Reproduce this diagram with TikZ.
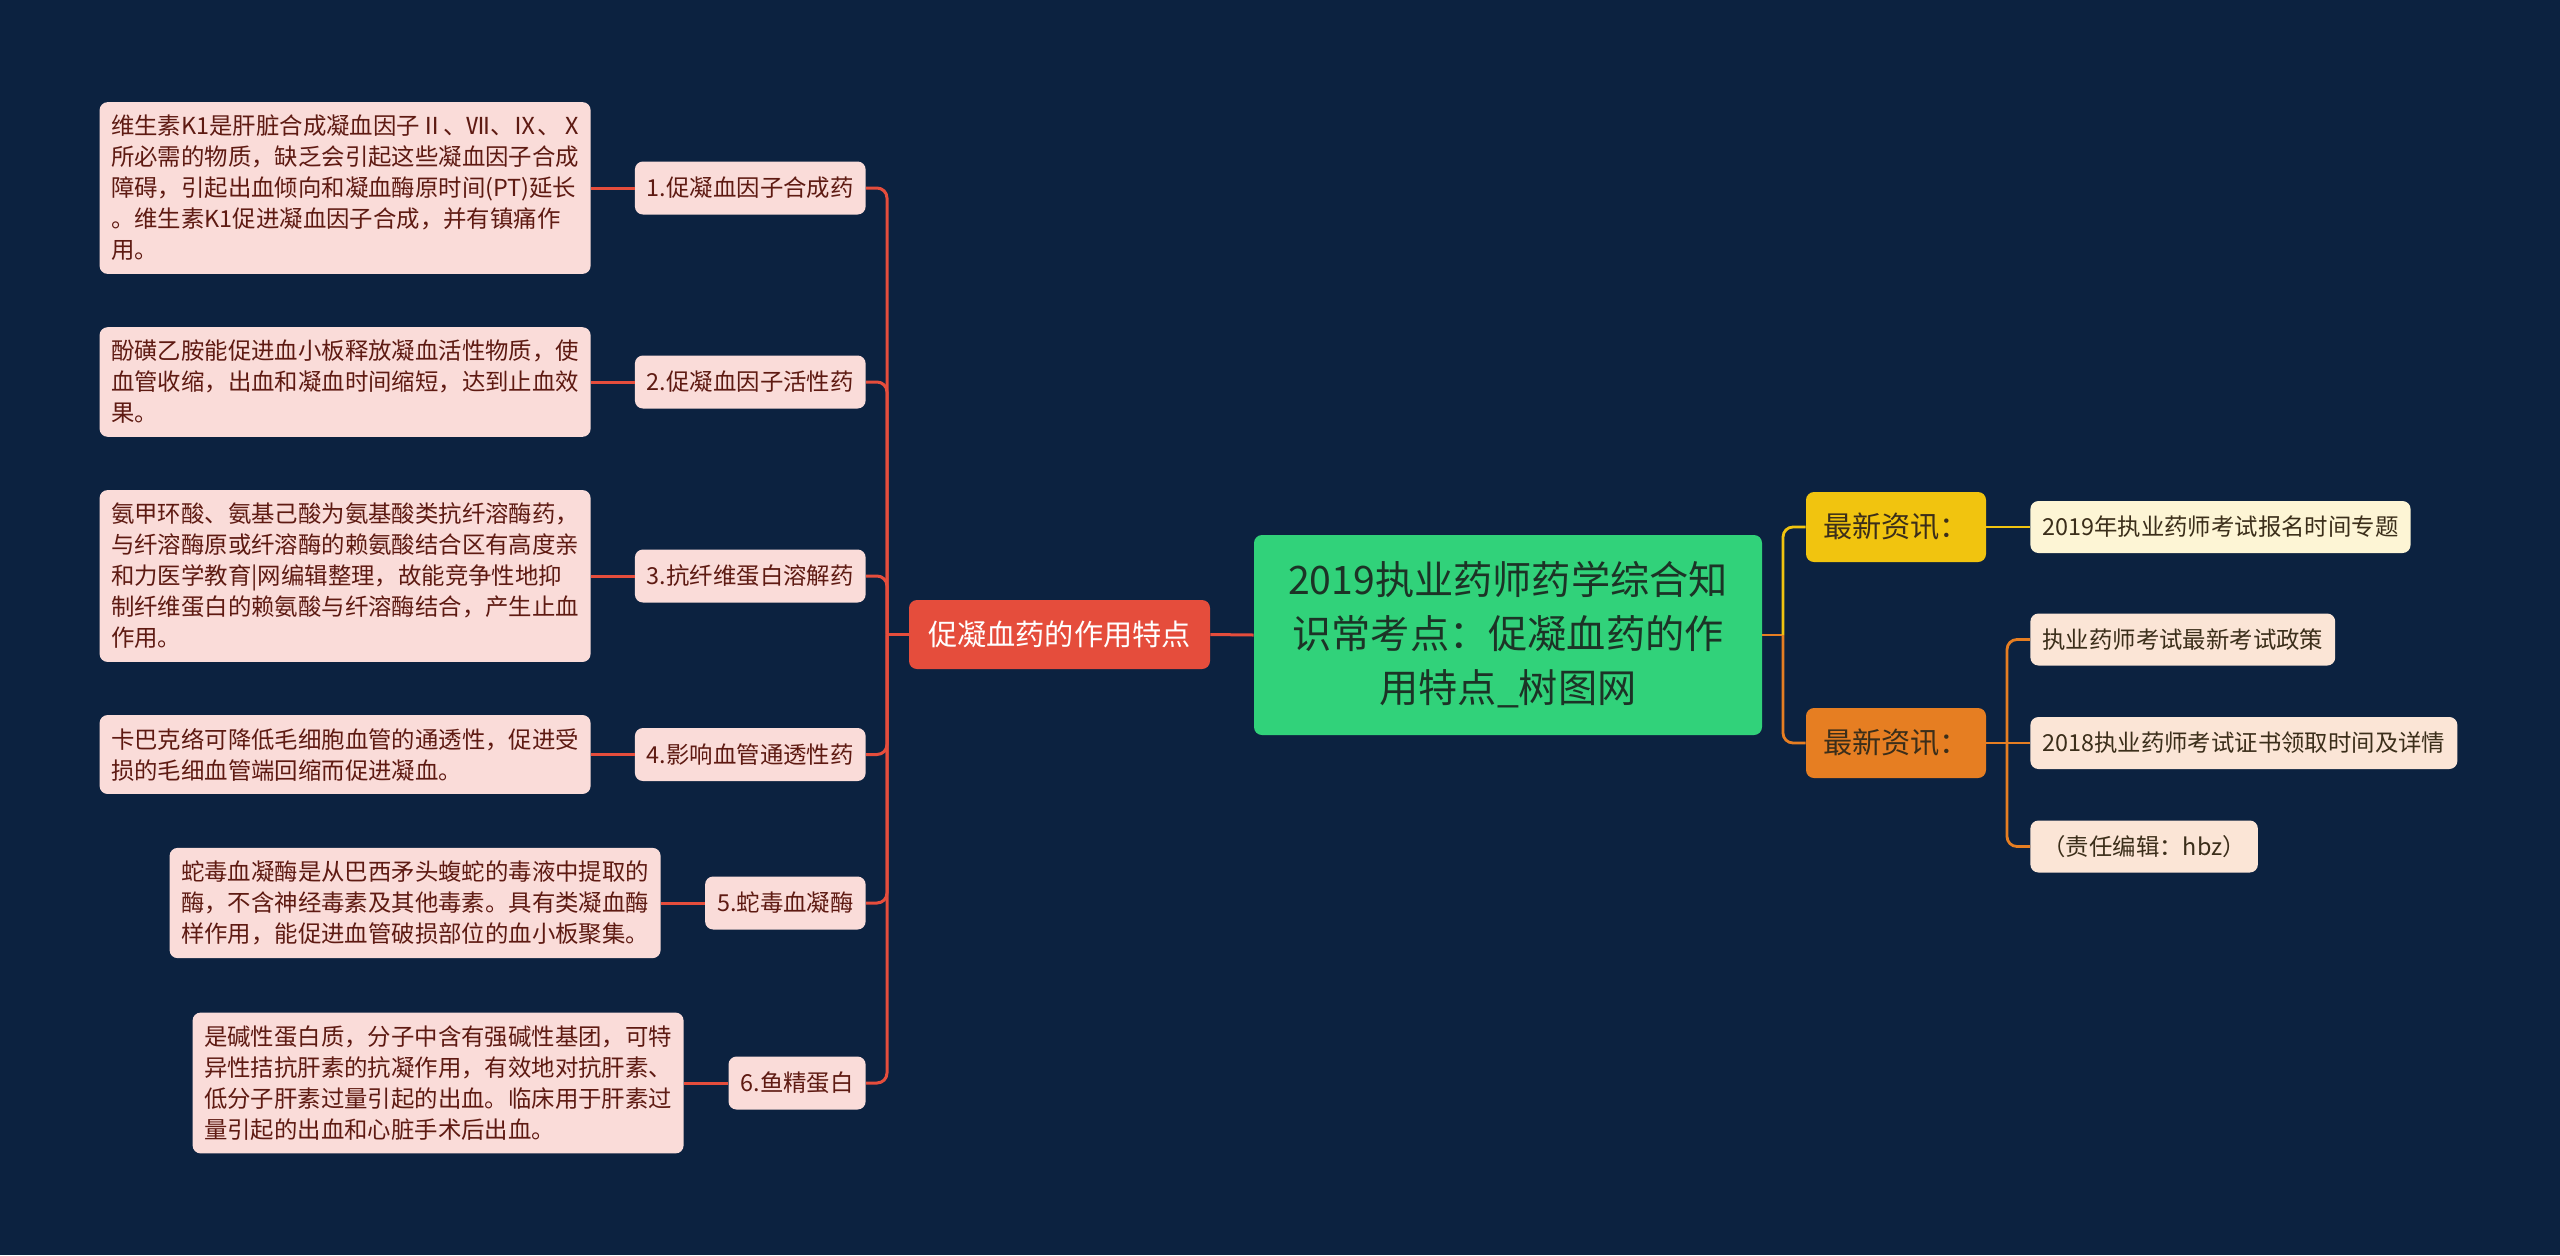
\documentclass[tikz,border=0pt]{standalone}
\usepackage{fontspec}
\setmainfont{Noto Sans CJK SC}

\definecolor{bgnavy}{RGB}{12,34,64}
\definecolor{rootgreen}{HTML}{31D27A}
\definecolor{roottext}{HTML}{1C3326}
\definecolor{mainred}{HTML}{E54D3C}
\definecolor{pinkfill}{HTML}{FADCD9}
\definecolor{pinktext}{HTML}{5E1A12}
\definecolor{newsyellow}{HTML}{F1C40F}
\definecolor{newsorange}{HTML}{E67E22}
\definecolor{creamfill}{HTML}{FDF5D5}
\definecolor{peachfill}{HTML}{FBE5D6}
\definecolor{newstext}{HTML}{3B2E1A}

\begin{document}
\begin{tikzpicture}[x=0.5pt, y=-0.5pt,
    rootbox/.style={fill=rootgreen, text=roottext, rounded corners=4pt,
        minimum width=254pt, minimum height=100pt, align=center,
        font=\fontsize{19.6}{27}\selectfont},
    mainbox/.style={fill=mainred, text=white, rounded corners=4pt,
        minimum width=150.5pt, minimum height=34.5pt,
        font=\fontsize{14.6}{18}\selectfont},
    subbox/.style={fill=pinkfill, text=pinktext, rounded corners=4pt,
        minimum height=26.5pt, inner xsep=6pt, anchor=east,
        font=\fontsize{11.7}{15.5}\selectfont},
    leafbox/.style={fill=pinkfill, text=pinktext, rounded corners=4pt,
        text width=234pt, inner xsep=5.75pt, inner ysep=6.5pt, align=left,
        anchor=east, font=\fontsize{11.7}{15.5}\selectfont},
    newsbox/.style={fill=#1, text=newstext, rounded corners=4pt,
        minimum width=90pt, minimum height=35pt,
        font=\fontsize{14.6}{18}\selectfont},
    newsitem/.style={fill=#1, text=newstext, rounded corners=4pt,
        minimum height=26pt, inner xsep=6pt, anchor=west,
        font=\fontsize{11.7}{15.5}\selectfont},
    redlink/.style={draw=mainred, line width=1.5pt, rounded corners=5pt},
    yellink/.style={draw=newsyellow, line width=1.4pt, rounded corners=5pt},
    orglink/.style={draw=newsorange, line width=1.4pt, rounded corners=5pt}]

    % Background
    \useasboundingbox (0,0) rectangle (2560,1255);
    \fill[bgnavy] (0,0) rectangle (2560,1255);

    % Root and main topic
    \node[rootbox] (root) at (1508,635) {2019执业药师药学综合知\\识常考点：促凝血药的作\\用特点\_树图网};
    \node[mainbox] (redn) at (1059.5,634.5) {促凝血药的作用特点};

    % Drug groups
    \node[subbox] (s1) at (866,188) {1.促凝血因子合成药};
    \node[subbox] (s2) at (866,382) {2.促凝血因子活性药};
    \node[subbox] (s3) at (866,576) {3.抗纤维蛋白溶解药};
    \node[subbox] (s4) at (866,754.5) {4.影响血管通透性药};
    \node[subbox] (s5) at (866,903) {5.蛇毒血凝酶};
    \node[subbox] (s6) at (866,1083) {6.鱼精蛋白};

    % Notes
    \node[leafbox] (l1) at (591,188) {维生素K1是肝脏合成凝血因子Ⅱ、Ⅶ、Ⅸ、Ⅹ\\所必需的物质，缺乏会引起这些凝血因子合成\\障碍，引起出血倾向和凝血酶原时间(PT)延长\\。维生素K1促进凝血因子合成，并有镇痛作\\用。};
    \node[leafbox] (l2) at (591,382) {酚磺乙胺能促进血小板释放凝血活性物质，使\\血管收缩，出血和凝血时间缩短，达到止血效\\果。};
    \node[leafbox] (l3) at (591,576) {氨甲环酸、氨基己酸为氨基酸类抗纤溶酶药，\\与纤溶酶原或纤溶酶的赖氨酸结合区有高度亲\\和力医学教育|网编辑整理，故能竞争性地抑\\制纤维蛋白的赖氨酸与纤溶酶结合，产生止血\\作用。};
    \node[leafbox] (l4) at (591,754.5) {卡巴克络可降低毛细胞血管的通透性，促进受\\损的毛细血管端回缩而促进凝血。};
    \node[leafbox] (l5) at (661,903) {蛇毒血凝酶是从巴西矛头蝮蛇的毒液中提取的\\酶，不含神经毒素及其他毒素。具有类凝血酶\\样作用，能促进血管破损部位的血小板聚集。};
    \node[leafbox] (l6) at (684,1083) {是碱性蛋白质，分子中含有强碱性基团，可特\\异性拮抗肝素的抗凝作用，有效地对抗肝素、\\低分子肝素过量引起的出血。临床用于肝素过\\量引起的出血和心脏手术后出血。};

    % News
    \node[newsbox=newsyellow] (yel) at (1896,527) {最新资讯：};
    \node[newsbox=newsorange] (org) at (1896,743) {最新资讯：};
    \node[newsitem=creamfill] (yc1) at (2030,527) {2019年执业药师考试报名时间专题};
    \node[newsitem=peachfill] (oc1) at (2030,639.5) {执业药师考试最新考试政策};
    \node[newsitem=peachfill] (oc2) at (2030,743) {2018执业药师考试证书领取时间及详情};
    \node[newsitem=peachfill] (oc3) at (2030,846.5) {（责任编辑：hbz）};

    % Left connectors
    \coordinate (ltrunk) at (887,634.5);
    \draw[redlink] (root.west) -- (redn.east);
    \draw[redlink] (redn.west) -- (ltrunk);
    \foreach \s in {s1,s2,s3,s4,s5,s6}
        \draw[redlink] (ltrunk) |- (\s.east);
    \foreach \l/\s in {l1/s1,l2/s2,l3/s3,l4/s4,l5/s5,l6/s6}
        \draw[redlink] (\l.east) -- (\s.west);

    % Right connectors
    \coordinate (rjoin) at (1783,635);
    \coordinate (otrunk) at (2007,743);
    \draw[orglink] (root.east) -- (rjoin);
    \draw[yellink] (rjoin) |- (yel.west);
    \draw[orglink] (rjoin) |- (org.west);
    \draw[yellink] (yel.east) -- (yc1.west);
    \draw[orglink] (org.east) -- (otrunk);
    \draw[orglink] (otrunk) |- (oc1.west);
    \draw[orglink] (otrunk) -- (oc2.west);
    \draw[orglink] (otrunk) |- (oc3.west);
\end{tikzpicture}
\end{document}
